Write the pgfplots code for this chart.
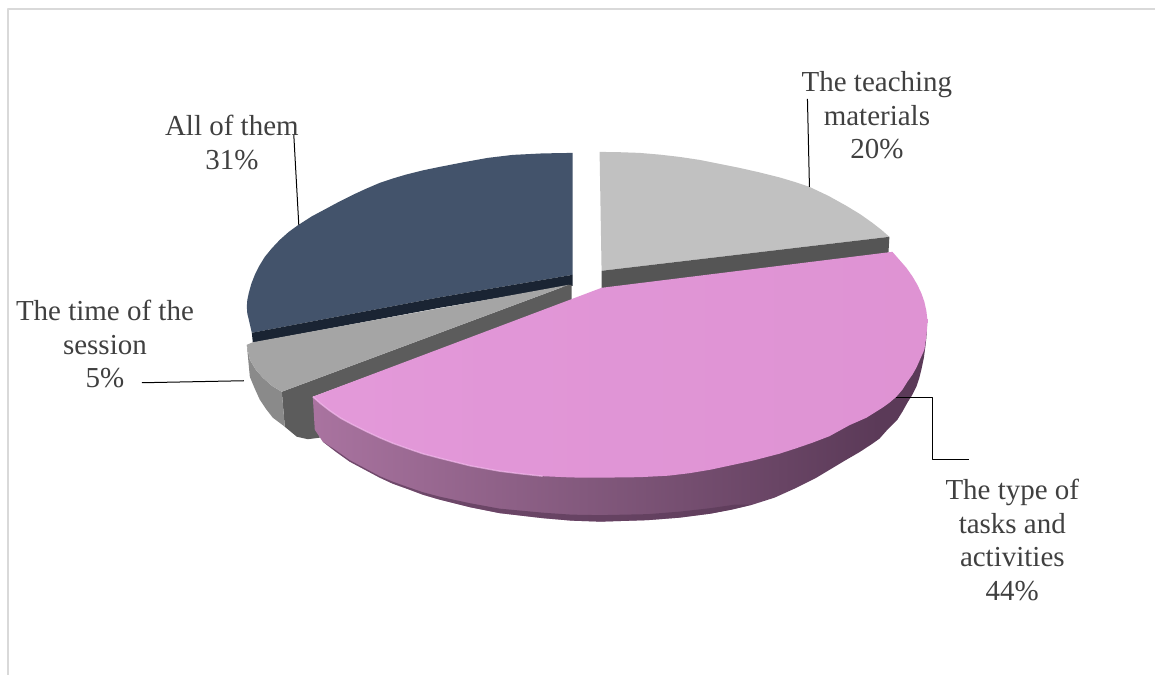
\documentclass[border=0pt]{standalone}
\usepackage{fontspec}
\setmainfont{Liberation Serif}
\usepackage{pgfplots}
\pgfplotsset{compat=1.18}

\definecolor{labelgrey}{HTML}{404040}
\definecolor{frame}{HTML}{D9D9D9}
\definecolor{slateTop}{HTML}{43536B}
\definecolor{slateSide}{HTML}{1A2433}
\definecolor{silverTop}{HTML}{C1C1C1}
\definecolor{silverSide}{HTML}{555555}
\definecolor{greyTop}{HTML}{A5A5A5}
\definecolor{greyOuter}{HTML}{8A8A8A}
\definecolor{greyInner}{HTML}{5C5C5C}
\definecolor{orchidDeep}{HTML}{5B3A58}
\definecolor{wallA}{HTML}{BE84B5}
\definecolor{wallB}{HTML}{B078A6}
\definecolor{wallC}{HTML}{83597D}
\definecolor{faceA}{HTML}{E8A0DE}
\definecolor{faceB}{HTML}{E196D7}
\definecolor{faceC}{HTML}{DE92D2}
\definecolor{faceD}{HTML}{D38BC7}
\definecolor{lip}{HTML}{F4BCEE}

% Horizontal lighting across the large slice: wall and top face
\pgfdeclarehorizontalshading{orchidwall}{100bp}{
  color(0bp)=(wallA);
  color(21bp)=(wallB);
  color(47bp)=(wallC);
  color(71bp)=(orchidDeep);
  color(100bp)=(orchidDeep)}
\pgfdeclarehorizontalshading{orchidtop}{100bp}{
  color(0bp)=(faceA);
  color(40bp)=(faceB);
  color(85bp)=(faceC);
  color(100bp)=(faceD)}

\tikzset{slice label/.style={font=\fontsize{29}{33.5}\selectfont, text=labelgrey,
                align=center, inner sep=0pt, anchor=south}}

\begin{document}
\begin{tikzpicture}
\begin{axis}[
  width=1156pt, height=675pt, scale only axis,
  xmin=0, xmax=1156, ymin=0, ymax=675, y dir=reverse,
  axis lines=none, clip=false,
  axis background/.style={fill=white},
  every axis plot/.append style={line join=round},
]
% Chart frame
\addplot[frame, line width=1.6pt] coordinates {(8,675) (8,9) (1156,9)};

% All of them: 31 %
\addplot[draw=none, fill=slateTop] coordinates {
  (573,153) (543,153.5) (513,155) (488,158) (463,162.5) (440,167) (423,170.5) (407,174.5)
  (393.5,178.5) (380,183) (366,189) (353,195) (340,201.5) (327,208.5) (312,216.5) (298,225.5)
  (289,232) (280,240) (272,248.5) (265,257) (259.5,266) (255,275) (251.5,284) (249,293)
  (247.5,300) (247,307) (247.5,314) (249,320) (252,333) (440,297.5) (573,275)} -- cycle;
\addplot[draw=none, fill=slateSide] coordinates {
  (573,275) (440,297.5) (252,333) (253,343) (440,308) (570,286) (573,286)} -- cycle;

% The teaching materials: 20 %
\addplot[draw=none, fill=silverTop] coordinates {
  (600,152) (620,152.3) (640,153) (660,154.7) (680,157) (700,160) (720,164) (740,168)
  (760,172.5) (780,177.5) (795,182) (810,187) (829,196) (847,206) (861,214.5) (873,223)
  (882,230) (890,237) (602,271)} -- cycle;
\addplot[draw=none, fill=silverSide] coordinates {
  (602,271) (890,237) (889,254) (602,290)} -- cycle;

% The time of the session: 5 %
\addplot[draw=none, fill=greyInner] coordinates {
  (282,392) (569,285) (572,285) (572,301) (313,397) (320,438) (308,439.5) (297,437) (285,427)} -- cycle;
\addplot[draw=none, fill=greyOuter] coordinates {
  (247,345) (250,377) (255,389) (260,400) (266,409) (273,418) (285,427) (282,392)
  (272,386) (263,378) (256,370) (250,360)} -- cycle;
\addplot[draw=none, fill=greyTop] coordinates {
  (247,345) (253,342.5) (569,285) (282,392) (272,386) (263,378) (256,370) (250,360)} -- cycle;

% The type of tasks and activities: 44 %
\addplot[draw=none, shading=orchidwall] coordinates {
  (313,397) (315,430) (323,442) (336,452) (350,462) (365,470) (380,478) (393,484)
  (407,489) (423,495) (440,500) (470,507.5) (500,513.5) (543,518.5) (572,521) (601,522)
  (648,520.5) (680,518) (711,514) (732,510) (753,505) (775,498) (795,489) (817,478)
  (832,469) (847,460) (860,452.5) (873,444) (880,439) (888,430) (898,420) (903,412)
  (908,403) (913,395) (917,387) (920,378) (922,370) (924.5,358) (926,347) (927,338)
  (928,320) (880,400) (700,460) (450,450)} -- cycle;
% Darker lower bevel of the wall
\addplot[draw=none, fill=orchidDeep, fill opacity=0.7] coordinates {
  (323,442) (336,452) (350,462) (365,470) (380,478) (393,484) (407,489) (423,495)
  (440,500) (470,507.5) (500,513.5) (543,518.5) (572,521) (601,522) (648,520.5) (680,518)
  (711,514) (732,510) (753,505) (735,505) (711,508.5) (680,512) (648,514.5) (601,515.5)
  (572,515) (543,513) (500,509) (470,503.5) (440,497) (423,492.5) (407,487) (393,482)
  (380,476.5) (365,468.5) (350,460.5) (336,450.5)} -- cycle;
\addplot[draw=none, shading=orchidtop] coordinates {
  (893,252) (900,260) (907,268) (913,276.5) (918,285) (922,293.5) (925,302) (927,311)
  (928,320) (927.7,329) (926.5,340) (925,350) (921,359) (917,368) (913,375) (908,382)
  (903,390) (897,397) (890,403) (883,408) (875,413) (867,418) (850,425.5) (830,436.5)
  (813,443) (797,448.5) (780,454) (753,461) (732,465.5) (711,470) (690,473.5) (669,476)
  (640,477.5) (601,478) (572,477.8) (543,476.5) (520,474) (500,471.5) (470,466) (440,458.5)
  (423,454) (407,448.5) (393,443.5) (380,438) (366,431.5) (353,425) (341,418.5) (330,411)
  (321,404) (313,397) (602,288)} -- cycle;
% Soft highlight on the front lip
\addplot[color=lip, opacity=0.65, line width=1.4pt] coordinates {
  (313,397) (321,404) (330,411) (341,418.5) (353,425) (366,431.5) (380,438) (393,443.5)
  (407,448.5) (423,454) (440,458.5) (470,466) (500,471.5) (520,474) (543,476.5)};

% Leader lines
\addplot[black, line width=1pt] coordinates {(294,135) (299,225)};
\addplot[black, line width=1pt] coordinates {(808,99) (810,187)};
\addplot[black, line width=1pt] coordinates {(142,383) (244,381)};
\addplot[black, line width=1pt] coordinates {(897,398) (933,398) (933,460) (970,460)};

% Category labels with their shares
\node[slice label] at (axis cs:232,170) {All of them\\31\%};
\node[slice label] at (axis cs:877.5,159.5) {The teaching\\materials\\20\%};
\node[slice label] at (axis cs:105,388.5) {The time of the\\session\\5\%};
\node[slice label] at (axis cs:1013,601) {The type of\\tasks and\\activities\\44\%};
\end{axis}
\end{tikzpicture}
\end{document}
